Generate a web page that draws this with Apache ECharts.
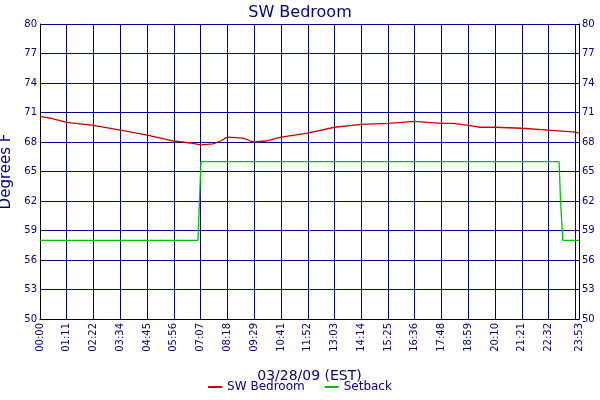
<!DOCTYPE html><html><head><meta charset="utf-8"><script src="https://cdn.jsdelivr.net/npm/echarts@6/dist/echarts.min.js"></script></head><body style="margin:0"><div id="c" style="width:600px;height:400px"></div><script>
const tickMinutes=[0,71,142,214,285,356,427,498,569,641,712,783,854,925,996,1068,1139,1210,1281,1352,1423,1433];
const tickLabels=['00:00','01:11','02:22','03:34','04:45','05:56','07:07','08:18','09:29','10:41','11:52','13:03','14:14','15:25','16:36','17:48','18:59','20:10','21:21','22:32','23:43','23:53'];
const tempT=[0,30,71,142,214,285,356,400,427,460,480,498,540,560,569,600,641,712,783,854,925,996,1068,1100,1139,1170,1210,1281,1352,1423,1433];
const tempV=[70.6,70.4,70.0,69.7,69.2,68.7,68.1,67.9,67.7,67.8,68.1,68.5,68.4,68.1,68.0,68.1,68.5,68.9,69.5,69.8,69.9,70.1,69.9,69.9,69.7,69.5,69.5,69.4,69.2,69.0,68.9];
const setT=[0,420,424,428,1380,1384,1390,1433];
const setV=[58,58,62,66,66,62,58,58];
const navy='#000080';
const ch=echarts.init(document.getElementById('c'));
const yax=(pos)=>({type:'value',position:pos,min:50,max:80,interval:3,axisLine:{show:true,lineStyle:{color:'#000'}},axisTick:{show:false},axisLabel:{color:navy,fontFamily:'DejaVu Sans',fontSize:10,margin:3},splitLine:{show:pos==='left',lineStyle:{color:navy,width:1}}});
ch.setOption({
 animation:false,
 title:{text:'SW Bedroom',left:'center',top:0,textStyle:{color:navy,fontWeight:'normal',fontSize:16,fontFamily:'DejaVu Sans'}},
 grid:{left:40,right:21,top:24,bottom:81,outerBoundsMode:'none',containLabel:false},
 legend:{bottom:2,itemWidth:14,itemHeight:2,itemGap:20,icon:'rect',textStyle:{color:navy,fontSize:12,fontFamily:'DejaVu Sans'},data:['SW Bedroom','Setback']},
 xAxis:{type:'value',min:0,max:1433,name:'03/28/09 (EST)',nameLocation:'middle',nameGap:50,nameTextStyle:{color:navy,fontSize:14,fontFamily:'DejaVu Sans'},
  axisLine:{lineStyle:{color:'#000'}},axisTick:{show:false,customValues:tickMinutes},
  axisLabel:{customValues:tickMinutes,rotate:90,hideOverlap:false,showMaxLabel:true,showMinLabel:true,margin:4,color:navy,fontSize:10,fontFamily:'DejaVu Sans',formatter:v=>tickLabels[tickMinutes.indexOf(v)]||''},
  splitLine:{show:true,lineStyle:{color:navy}}},
 yAxis:[Object.assign(yax('left'),{name:'Degrees F',nameLocation:'middle',nameGap:24,nameTextStyle:{color:navy,fontSize:15,fontFamily:'DejaVu Sans'}}),yax('right')],
 series:[
  {name:'SW Bedroom',type:'line',symbol:'none',lineStyle:{color:'#cc0000',width:1.3},itemStyle:{color:'#cc0000'},data:tempT.map((t,i)=>[t,tempV[i]])},
  {name:'Setback',type:'line',symbol:'none',lineStyle:{color:'#00c000',width:1.3},itemStyle:{color:'#00c000'},data:setT.map((t,i)=>[t,setV[i]])}
 ]
});
</script></body></html>
